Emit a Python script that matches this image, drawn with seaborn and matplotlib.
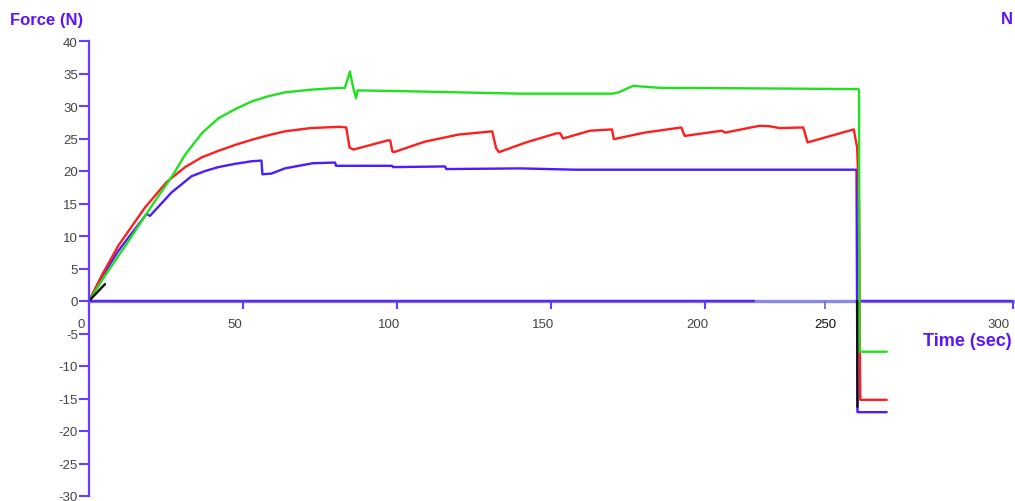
import numpy as np
import pandas as pd
import matplotlib
matplotlib.use("Agg")
import matplotlib.pyplot as plt
from matplotlib.transforms import ScaledTranslation
from matplotlib.ticker import FixedLocator, FixedFormatter
import seaborn as sns

# ---------------- data ----------------
green_t = [0, 5.2, 12.8, 20.3, 27.4, 31.2, 36.6, 42.0, 47.4, 52.8, 58.2, 63.6, 71.8, 78.0,
           83.1, 84.7, 85.7, 86.7, 87.2, 100, 120, 140, 170, 172, 176.6, 185, 220, 249.8,
           250.0, 250.2, 259]
green_v = [0, 3.9, 9.2, 14.6, 19.5, 22.5, 25.8, 28.1, 29.5, 30.7, 31.5, 32.1, 32.5, 32.7,
           32.8, 35.3, 33.0, 31.2, 32.4, 32.3, 32.1, 31.9, 31.9, 32.1, 33.1, 32.8, 32.7, 32.6,
           32.4, -7.8, -7.8]

red_t = [0, 4.1, 9.5, 18.2, 25.2, 31.2, 36.6, 42.0, 47.4, 52.8, 58.2, 63.6, 71.8, 81.5,
         83.5, 84.6, 85.9, 96.9, 97.8, 98.5, 99.0, 108.9, 119.9, 130.9, 132.2, 133.1, 141.9,
         151.8, 153.0, 153.9, 162.7, 169.8, 170.4, 180.3, 192.3, 193.4, 205.5, 206.5, 217.6,
         220.9, 224.2, 231.9, 233.3, 248.3, 249.4, 250.0, 250.4, 259]
red_v = [0, 3.9, 8.5, 14.4, 18.3, 20.6, 22.1, 23.1, 24.0, 24.8, 25.5, 26.1, 26.6, 26.8,
         26.7, 23.6, 23.3, 24.7, 24.7, 23.0, 22.9, 24.5, 25.6, 26.1, 23.5, 22.9, 24.4,
         25.8, 25.8, 25.0, 26.2, 26.4, 24.9, 25.9, 26.7, 25.4, 26.2, 25.9, 26.95,
         26.9, 26.6, 26.7, 24.4, 26.4, 23.6, 15.0, -15.2, -15.2]

blue_t = [0, 4.1, 9.5, 18.7, 19.8, 26.8, 33.3, 37.7, 42.0, 47.4, 52.8, 56.0, 56.3, 59.2,
          63.6, 72.7, 79.9, 80.2, 98.4, 98.7, 115.6, 116.0, 140, 158, 249.2, 249.5, 259]
blue_v = [0, 3.6, 7.7, 13.4, 13.1, 16.7, 19.2, 20.0, 20.6, 21.1, 21.5, 21.6, 19.5, 19.6,
          20.4, 21.2, 21.3, 20.8, 20.8, 20.6, 20.7, 20.3, 20.4, 20.2, 20.2, -17.1, -17.1]

black_t = [[0, 5.2], [249.4, 249.5]]
black_v = [[0, 2.6], [0, -16.3]]

zero_t = [[0, 216], [250.3, 300]]
zero_v = [[0, 0], [0, 0]]

x_ticks = [0, 50, 100, 150, 200, 250, 300]
x_labels = ["0", "50", "100", "150", "200", "", "300"]
y_ticks = [-30, -25, -20, -15, -10, -5, 0, 5, 10, 15, 20, 25, 30, 35, 40]

# ---------------- build table ----------------
rows = []
def add(name, ts, vs, seg):
    for t, v in zip(ts, vs):
        rows.append({"t": t, "v": v, "series": name, "seg": f"{name}{seg}"})

add("zero", zero_t[0], zero_v[0], 0)
add("zero", zero_t[1], zero_v[1], 1)
add("blue", blue_t, blue_v, 0)
add("red", red_t, red_v, 0)
add("green", green_t, green_v, 0)
add("black", black_t[0], black_v[0], 0)
add("black", black_t[1], black_v[1], 1)
df = pd.DataFrame(rows)

palette = {"zero": "#5a2cf0", "blue": "#4a1cff", "red": "#ff1e1e",
           "green": "#20e020", "black": "#111111"}

sns.set_theme(style="white")
plt.rcParams["font.family"] = ["Liberation Sans", "DejaVu Sans"]

fig = plt.figure(figsize=(10.15, 5.02), dpi=100)
ax = fig.add_axes([89 / 1015, 5 / 502, (1013 - 89) / 1015, (497 - 42) / 502])

sns.lineplot(data=df, x="t", y="v", hue="series", units="seg", estimator=None,
             sort=False, palette=palette, legend=False, linewidth=1.7, ax=ax)

ax.set_xlim(0, 300)
ax.set_ylim(-30, 40)
ax.set_xlabel("")
ax.set_ylabel("")

axis_col = "#6a3cff"
for s in ["top", "right"]:
    ax.spines[s].set_visible(False)
ax.spines["left"].set_color(axis_col)
ax.spines["left"].set_linewidth(1.6)
ax.spines["left"].set_position(("data", 0))
ax.spines["bottom"].set_position(("data", 0))
ax.spines["bottom"].set_color("#8a8ae6")
ax.spines["bottom"].set_linewidth(2.4)
ax.spines["bottom"].set_zorder(0.5)

ax.set_yticks(y_ticks)
ax.set_yticklabels([str(v) for v in y_ticks])
ax.xaxis.set_major_locator(FixedLocator(x_ticks))
ax.xaxis.set_major_formatter(FixedFormatter(x_labels))
ax.xaxis.set_minor_locator(FixedLocator([239]))
ax.xaxis.set_minor_formatter(FixedFormatter(["250"]))

ax.tick_params(axis="y", direction="out", length=7, width=1.5, color=axis_col,
               labelsize=9.5, labelcolor="#444444", pad=1, left=True)
ax.tick_params(axis="x", which="major", direction="out", length=6, width=1.5,
               color=axis_col, labelsize=9.5, labelcolor="#444444", pad=6, bottom=True)
ax.tick_params(axis="x", which="minor", direction="out", length=6, width=1.3,
               color="#6f6fd0", labelsize=9.5, labelcolor="#111111", pad=6, bottom=True)

for lbl in ax.get_xticklabels():
    shift = -14 if lbl.get_text() == "300" else -8
    lbl.set_transform(lbl.get_transform() + ScaledTranslation(shift / 100, 0, fig.dpi_scale_trans))

ax.grid(False)

txt_col = "#5a14ff"
fig.text(10 / 1015, 1 - 20 / 502, "Force (N)", ha="left", va="center",
         fontsize=12, fontweight="bold", color=txt_col)
fig.text(1013 / 1015, 1 - 20 / 502, "N", ha="right", va="center",
         fontsize=12, fontweight="bold", color=txt_col)
fig.text(1012 / 1015, 1 - 342 / 502, "Time (sec)", ha="right", va="center",
         fontsize=13, fontweight="bold", color=txt_col)

fig.savefig("out.png", dpi=100)
